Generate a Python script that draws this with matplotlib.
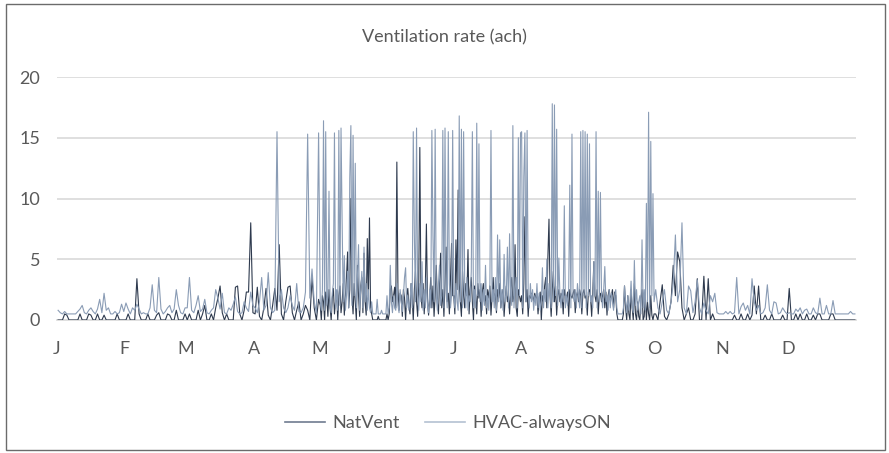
import numpy as np
import matplotlib
matplotlib.use("Agg")
import matplotlib.pyplot as plt
from matplotlib.patches import Rectangle
from matplotlib.lines import Line2D

# ---------------- data ----------------
month_labels = ["J", "F", "M", "A", "M", "J", "J", "A", "S", "O", "N", "D"]
month_days = [31, 28, 31, 30, 31, 30, 31, 31, 30, 31, 30, 31]

# NatVent (ach), samples spread evenly through each month
nat_jan = [0, 0, 0, 0.5, 0.4, 0, 0, 0, 0, 0, 0.5, 0, 0, 0, 0.5, 0.4, 0, 0, 0.5, 0, 0, 0.4, 0, 0, 0, 0, 0, 0.5, 0, 0, 0]
nat_feb = [0, 0.5, 0, 0, 0, 3.4, 0.5, 0, 0, 0, 0.5, 0, 0, 0, 0.4, 0.6, 0, 0, 0, 0.5, 0.4, 0, 0, 0.8, 0, 0, 0, 0.5]
nat_mar = [0, 0.5, 0, 0, 0, 0.8, 0, 0.5, 1.2, 0, 0, 0.5, 0, 1.0, 1.8, 2.8, 0.6, 0, 0.5, 0, 0, 0, 2.7, 2.8, 0.5, 0, 0.8, 2.3, 2.3, 8.0, 0.6]
nat_apr = [0.5, 2.7, 0.3, 0, 1.0, 2.6, 0.4, 0, 1.2, 2.6, 0.8, 6.2, 0.5, 0, 1.5, 2.7, 2.8, 0.6, 0, 0.8, 1.5, 0, 0.5, 1.2, 0.8, 0, 3.5, 1.0, 0, 1.7]
nat_may = [1.2, 0, 2.0, 1.5, 0, 2.3, 1.8, 0.3, 2.5, 1.0,
           0, 1.8, 2.6, 0.5, 1.5, 2.2, 0, 2.0, 2.8, 0.6,
           1.5, 3.0, 0.4, 2.0, 3.5, 5.6, 1.0, 2.5, 10.0, 2.0,
           0.5, 3.0, 1.5, 0, 4.5, 2.0, 0.3, 2.8, 3.5, 0.6,
           5.5, 1.5, 0.4, 6.7, 2.0, 8.4, 1.0, 0.5, 0, 0,
           0, 0, 0, 0.3, 0, 0, 0, 0, 0, 0, 0, 0.5]
nat_jun = [0, 0.5, 2.5, 2.8, 1.5, 2.0, 2.7, 1.0, 13.0, 2.5,
           0.8, 2.2, 2.0, 0.3, 2.5, 1.8, 0, 2.0, 2.6, 1.2,
           0.5, 3.0, 1.8, 0, 2.5, 4.0, 1.5, 0.3, 2.8, 14.2,
           2.0, 1.0, 3.0, 0.5, 2.5, 7.9, 1.5, 0.4, 2.0, 3.5,
           1.0, 2.8, 0.3, 2.0, 4.5, 1.5, 0.5, 3.0, 5.5, 1.0,
           2.5, 0.3, 3.0, 6.0, 1.5, 2.2, 0.5, 3.5, 6.3, 2.0]
nat_jul = [2.0, 0.5, 6.6, 2.5, 10.7, 3.0, 1.5, 0.3, 4.0, 2.0,
           1.0, 3.0, 2.0, 5.8, 0.5, 2.5, 3.5, 1.5, 0, 2.8,
           2.0, 0.5, 3.0, 1.8, 2.5, 0.3, 2.2, 3.0, 1.5, 2.0,
           0.5, 2.5, 1.8, 2.8, 0.4, 2.0, 3.5, 1.5, 2.2, 0.6,
           2.5, 1.8, 3.0, 1.0, 2.0, 2.5, 0.3, 1.8, 2.8, 1.5,
           2.0, 0.5, 2.5, 3.5, 1.5, 2.0, 6.2, 1.0, 0.3, 2.5,
           2.0, 1.5]
nat_aug = [2.0, 0.5, 3.0, 8.5, 1.5, 2.5, 0.3, 2.0, 1.8, 2.2,
           2.0, 1.5, 2.2, 1.8, 2.0, 0.5, 1.8, 2.3, 0, 2.0,
           1.5, 2.8, 3.5, 1.0, 5.2, 8.3, 2.0, 0.3, 2.5, 4.0,
           1.5, 2.8, 0.4, 2.0, 2.5, 1.5, 2.2, 2.0, 0.5, 2.5,
           2.0, 1.8, 2.3, 0.3, 2.5, 2.0, 1.8, 2.2, 2.5, 0.6,
           2.0, 2.3, 1.5, 2.5, 2.0, 0.5, 2.2, 2.5, 1.8, 2.0,
           0.4, 2.3]
nat_sep = [2.5, 1.8, 0.3, 2.2, 4.8, 2.0, 1.5, 2.5, 0.5, 2.0,
           2.2, 1.5, 2.0, 2.5, 1.0, 2.3, 0.4, 2.0, 2.5, 1.8,
           2.0, 2.5, 1.0, 2.3, 2.0, 0.5, 0, 0, 0, 0,
           0, 0.5, 2.8, 1.0, 0, 2.0, 0.5, 0, 2.5, 1.0,
           0, 3.0, 0.5, 0, 1.5, 0.3, 0, 1.8, 2.5, 0,
           0.3, 2.0, 0, 1.5, 0.5, 0, 2.0, 0.4, 0, 0.5]
nat_oct = [0.5, 0, 1.5, 2.9, 0.3, 0, 0.5, 1.5, 4.5, 2.0, 5.6, 4.8, 1.0, 0, 0.5, 1.0, 0, 0, 0.5, 3.4, 0, 0, 3.6, 0, 3.4, 0, 0.5, 0, 0, 0, 0]
nat_nov = [0, 0, 0, 0, 0, 0.4, 0, 0, 0.5, 0, 0, 0.5, 0, 0.4, 2.8, 0.5, 2.8, 0, 0, 0.4, 0, 0, 0.5, 0, 0, 0, 0, 0.4, 0, 0]
nat_dec = [2.6, 0, 0, 0.5, 0, 0.5, 0, 0, 0.5, 0, 0, 0.4, 0, 0.5, 0.5, 0, 0, 0, 0, 0.5, 0.5, 0, 0, 0, 0, 0, 0, 0, 0, 0, 0]

# HVAC-alwaysON (ach)
hv_jan = [0.8, 0.6, 0.5, 0.7, 0.5, 0.5, 0.5, 0.5, 0.5, 0.7, 0.9, 1.2, 0.6, 0.5, 0.8, 1.0, 0.7, 0.5, 0.9, 1.7, 0.6, 2.2, 0.8, 1.0, 0.5, 0.5, 0.7, 0.5, 0.6, 1.3, 0.7]
hv_feb = [1.4, 0.9, 0.5, 1.0, 0.8, 1.3, 0.9, 0.5, 0.6, 0.5, 0.5, 1.0, 2.9, 0.8, 0.6, 3.5, 0.9, 0.5, 0.7, 1.0, 1.2, 0.6, 0.9, 2.5, 1.2, 0.6, 0.5, 1.0]
hv_mar = [1.0, 3.5, 0.8, 0.6, 1.2, 2.0, 0.7, 0.9, 1.7, 0.6, 0.5, 0.8, 1.0, 2.5, 1.8, 0.9, 2.2, 0.6, 0.5, 1.0, 0.8, 1.3, 1.9, 0.7, 0.5, 0.6, 1.5, 1.0, 0.7, 2.3, 1.2]
hv_apr = [1.0, 0.6, 1.5, 3.5, 0.8, 1.2, 3.9, 1.0, 0.6, 0.8, 15.5, 1.5, 2.5, 1.0, 0.6, 1.0, 2.0, 1.2, 0.8, 3.0, 0.7, 0.6, 1.0, 2.3, 15.3, 1.8, 4.2, 1.5, 0.6, 15.4]
hv_may = [1.5, 0.8, 2.5, 16.4, 0.8, 15.5, 1.2, 2.0, 10.6, 1.0,
          0.6, 2.2, 3.0, 15.4, 1.0, 2.5, 0.8, 15.6, 1.2, 15.8,
          8.1, 1.5, 5.3, 0.8, 2.0, 4.0, 1.0, 11.7, 16.0, 1.2,
          15.2, 2.0, 12.9, 1.0, 3.5, 6.2, 0.8, 2.5, 4.0, 1.0,
          6.0, 1.5, 3.0, 0.8, 2.5, 1.0, 0.6, 1.5, 0.5, 0.5,
          0.5, 0.5, 1.7, 0.5, 0.5, 0.5, 0.8, 0.5, 0.5, 0.5, 0.5, 2.0]
hv_jun = [0.5, 1.0, 4.5, 1.5, 0.6, 2.0, 1.0, 0.8, 3.0, 1.2,
          0.6, 2.5, 1.5, 0.7, 2.0, 3.5, 4.3, 1.0, 2.0, 0.8,
          1.5, 3.0, 1.0, 15.5, 6.9, 1.5, 15.8, 2.0, 0.8, 3.0,
          1.5, 4.8, 0.8, 2.5, 1.0, 3.5, 1.2, 0.6, 2.5, 1.0,
          15.6, 6.9, 1.5, 15.7, 2.0, 0.8, 3.0, 4.5, 1.2, 2.0,
          15.6, 1.0, 15.8, 2.5, 1.0, 15.5, 3.0, 1.0, 2.0, 15.6]
hv_jul = [2.0, 1.0, 3.0, 1.5, 0.8, 16.8, 1.5, 15.7, 1.0, 15.5,
          2.5, 1.0, 3.5, 0.8, 2.0, 1.5, 4.0, 15.5, 1.0, 2.5,
          1.0, 16.2, 2.0, 14.5, 1.5, 3.0, 0.8, 2.5, 1.2, 4.5,
          1.0, 2.0, 0.8, 3.0, 15.6, 1.5, 2.5, 1.0, 3.5, 0.8,
          7.0, 1.5, 6.6, 1.0, 2.5, 0.8, 5.4, 1.5, 2.0, 6.0,
          1.0, 7.1, 2.0, 1.2, 16.0, 1.0, 2.5, 3.5, 1.0, 15.0,
          2.0, 15.4]
hv_aug = [15.5, 1.0, 11.8, 15.4, 1.5, 15.6, 2.0, 1.0, 3.0, 1.5,
          2.5, 0.8, 2.0, 1.2, 3.0, 1.0, 2.2, 0.8, 1.5, 4.3,
          1.0, 2.5, 1.5, 5.0, 1.0, 3.0, 2.0, 1.0, 17.8, 1.5,
          17.7, 2.0, 15.7, 1.2, 5.1, 2.0, 1.0, 2.5, 1.5, 9.4,
          1.0, 2.0, 1.2, 2.5, 11.1, 1.0, 15.3, 2.0, 1.5, 2.5,
          1.0, 3.0, 2.0, 1.0, 15.5, 1.0, 15.6, 2.0, 15.5, 1.0,
          15.3, 2.0]
hv_sep = [14.5, 1.5, 2.0, 1.0, 4.8, 2.0, 15.5, 1.0, 10.6, 1.5,
          10.5, 2.0, 1.0, 2.5, 4.4, 1.5, 2.0, 0.8, 2.5, 1.0,
          2.2, 1.5, 0.8, 2.0, 2.5, 1.0, 0.5, 0.5, 0.5, 0.5,
          0.5, 1.0, 2.8, 1.5, 0.6, 2.0, 0.8, 1.5, 3.2, 1.0,
          0.6, 4.9, 1.2, 2.5, 0.8, 1.5, 2.0, 0.5, 6.6, 1.0,
          2.5, 0.8, 9.6, 1.5, 17.1, 1.0, 14.7, 2.0, 10.4, 1.5]
hv_oct = [2.5, 1.0, 0.5, 1.5, 2.5, 0.8, 0.5, 1.5, 3.0, 7.0, 1.5, 2.5, 8.0, 1.0, 0.5, 2.8, 2.4, 0.6, 1.5, 3.3, 1.0, 0.5, 1.4, 0.8, 0.5, 2.0, 1.5, 2.2, 0.6, 0.5, 0.5]
hv_nov = [0.5, 0.7, 0.5, 0.7, 0.5, 0.6, 3.5, 0.5, 1.1, 1.4, 0.8, 1.2, 0.5, 3.4, 1.5, 0.8, 1.2, 0.5, 0.6, 1.0, 2.9, 0.8, 0.5, 1.5, 1.4, 0.5, 0.6, 1.0, 0.7, 0.5]
hv_dec = [0.6, 0.5, 0.5, 0.9, 0.7, 1.0, 0.5, 0.8, 0.9, 0.5, 0.5, 1.0, 0.6, 0.5, 1.8, 0.5, 0.5, 1.2, 0.5, 0.5, 1.6, 0.5, 0.5, 0.5, 0.5, 0.5, 0.5, 0.5, 0.7, 0.5, 0.5]

natvent_months = [nat_jan, nat_feb, nat_mar, nat_apr, nat_may, nat_jun,
                  nat_jul, nat_aug, nat_sep, nat_oct, nat_nov, nat_dec]
hvac_months = [hv_jan, hv_feb, hv_mar, hv_apr, hv_may, hv_jun,
               hv_jul, hv_aug, hv_sep, hv_oct, hv_nov, hv_dec]


def build(monthly):
    xs, ys = [], []
    start = 0
    for arr, ndays in zip(monthly, month_days):
        n = len(arr)
        xs.extend(start + (np.arange(n) + 0.5) * ndays / n)
        ys.extend(arr)
        start += ndays
    return np.array(xs), np.array(ys)


x_nat, y_nat = build(natvent_months)
x_hv, y_hv = build(hvac_months)
month_starts = np.concatenate([[0], np.cumsum(month_days)[:-1]])

# ---------------- figure ----------------
W, H = 889, 453
plt.rcParams["font.family"] = ["Lato", "DejaVu Sans"]
fig = plt.figure(figsize=(W / 100, H / 100), dpi=100)
txt = "#595959"

ax = fig.add_axes([57 / W, (H - 320) / H, (856 - 57) / W, (320 - 77) / H])
ax.plot(x_nat, y_nat, color="#2E3A4E", lw=0.8, zorder=3, label="NatVent")
ax.plot(x_hv, y_hv, color="#8A9CB5", lw=0.8, zorder=4, label="HVAC-alwaysON")

ax.set_xlim(0, 365)
ax.set_ylim(0, 20)
ax.set_yticks([0, 5, 10, 15, 20])
ax.set_xticks(month_starts)
ax.set_xticklabels(month_labels)
ax.tick_params(axis="both", length=0, labelsize=13, labelcolor=txt)
ax.tick_params(axis="x", pad=15)
ax.tick_params(axis="y", pad=12)
for s in ["top", "right", "left"]:
    ax.spines[s].set_visible(False)
ax.spines["bottom"].set_color("#d9d9d9")
ax.spines["bottom"].set_linewidth(1.2)
ax.yaxis.grid(True, color="#d9d9d9", lw=1.2)
ax.set_axisbelow(True)

fig.text(0.5, (H - 37) / H, "Ventilation rate (ach)", ha="center", va="center",
         fontsize=13, color=txt)

handles = [Line2D([], [], color="#6F7C90", lw=1.2),
           Line2D([], [], color="#B4C1D2", lw=1.2)]
fig.legend(handles, ["NatVent", "HVAC-alwaysON"], loc="center",
           bbox_to_anchor=(448 / W, (H - 423) / H), ncol=2, frameon=False,
           fontsize=13, labelcolor=txt, handlelength=2.2, handletextpad=0.4,
           columnspacing=1.4)

fig.add_artist(Rectangle((5.5 / W, 3.5 / H), (884.5 - 5.5) / W, (449.5 - 3.5) / H,
                         transform=fig.transFigure, fill=False,
                         edgecolor="#6b6b6b", lw=1.0))

fig.savefig("out.png", dpi=100)
